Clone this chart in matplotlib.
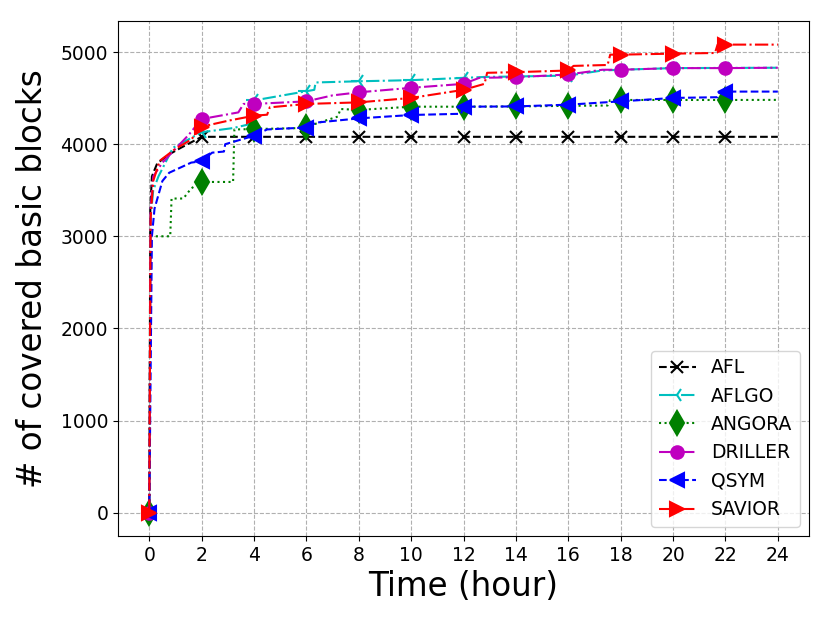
import numpy as np
import matplotlib
matplotlib.use("Agg")
import matplotlib.pyplot as plt

# hours at which the markers sit
mark_hours = [0, 2, 4, 6, 8, 10, 12, 14, 16, 18, 20, 22]

afl_t = [0, 0.04, 0.1, 0.3, 0.7, 1.2, 1.8, 2, 4, 6, 8, 10, 12, 14, 16, 18, 20, 22, 24]
afl_v = [0, 3300, 3650, 3790, 3880, 3960, 4050, 4080, 4080, 4080, 4080, 4080, 4080, 4080,
         4080, 4080, 4080, 4080, 4080]

aflgo_t = [0, 0.05, 0.15, 0.35, 0.9, 2, 3.2, 3.8, 3.9, 4, 5.8, 6, 6.3, 6.35, 8, 10, 12, 12.8,
           14, 16, 17.3, 18, 20, 22, 24]
aflgo_v = [0, 3200, 3500, 3650, 3960, 4130, 4175, 4215, 4480, 4475, 4565, 4575, 4590, 4670,
           4683, 4695, 4720, 4730, 4735, 4745, 4800, 4808, 4826, 4828, 4830]

angora_t = [0, 0.05, 0.8, 0.85, 1.3, 1.6, 2, 3.2, 3.25, 4, 5.8, 6, 7.2, 7.3, 8, 10, 12, 14,
            16, 17.5, 17.6, 18, 20, 22, 24]
angora_v = [0, 3000, 3000, 3410, 3410, 3520, 3590, 3590, 4160, 4164, 4175, 4189, 4300, 4382,
            4372, 4407, 4407, 4410, 4416, 4420, 4480, 4480, 4480, 4480, 4481]

driller_t = [0, 0.05, 0.15, 0.5, 1.0, 1.5, 2, 3.4, 3.6, 4, 6, 7, 8, 10, 12, 12.6, 14, 16,
             17.3, 18, 20, 22, 24]
driller_v = [0, 3300, 3650, 3800, 3950, 4100, 4273, 4345, 4437, 4437, 4465, 4530, 4563, 4612,
             4655, 4720, 4727, 4757, 4808, 4808, 4826, 4826, 4830]

qsym_t = [0, 0.1, 0.2, 0.5, 0.76, 1.6, 2, 2.4, 2.85, 2.9, 4, 4.5, 6, 6.4, 8, 10, 11.9, 12,
          14, 16, 18, 20, 21.7, 21.8, 22, 24]
qsym_v = [0, 3000, 3300, 3600, 3690, 3800, 3815, 3908, 3920, 4000, 4091, 4160, 4181, 4235,
          4280, 4317, 4330, 4407, 4410, 4429, 4465, 4502, 4510, 4571, 4571, 4571]

savior_t = [0, 0.05, 0.15, 0.4, 1.0, 1.6, 2, 3, 4, 4.5, 4.6, 6, 8, 10, 12, 12.8, 12.9, 14,
            16, 16.2, 17.5, 17.6, 18, 20, 21.6, 21.7, 22, 24]
savior_v = [0, 3200, 3600, 3820, 3950, 4050, 4190, 4254, 4309, 4320, 4400, 4437, 4454, 4502,
            4590, 4655, 4775, 4782, 4800, 4850, 4860, 4972, 4972, 4983, 4990, 5081, 5081, 5081]

series = [
    ("AFL", afl_t, afl_v, "k", "--", "x", 9),
    ("AFLGO", aflgo_t, aflgo_v, "c", "-.", "3", 11),
    ("ANGORA", angora_t, angora_v, "g", ":", "d", 12),
    ("DRILLER", driller_t, driller_v, "m", "-.", "o", 9),
    ("QSYM", qsym_t, qsym_v, "b", "--", "<", 10),
    ("SAVIOR", savior_t, savior_v, "r", "-.", ">", 10),
]

fig = plt.figure(figsize=(8.3, 6.24), dpi=100)
ax = fig.add_axes([0.142, 0.141, 0.833, 0.825])

for name, t, v, c, ls, mk, ms in series:
    t = np.array(t)
    every = [i for i in range(len(t)) if t[i] in mark_hours]
    ax.plot(t, v, color=c, linestyle=ls, marker=mk, markersize=ms, markevery=every,
            linewidth=1.5, markeredgewidth=1.5, label=name)

ax.set_xticks(range(0, 25, 2))
ax.grid(True, linestyle="--", color="#b0b0b0", linewidth=0.8)
ax.tick_params(labelsize=13.5)
ax.set_xlabel("Time (hour)", fontsize=23.5)
ax.set_ylabel("# of covered basic blocks", fontsize=23.5, labelpad=8)
ax.legend(loc="lower right", fontsize=13.5)

fig.savefig("out.png", dpi=100)
